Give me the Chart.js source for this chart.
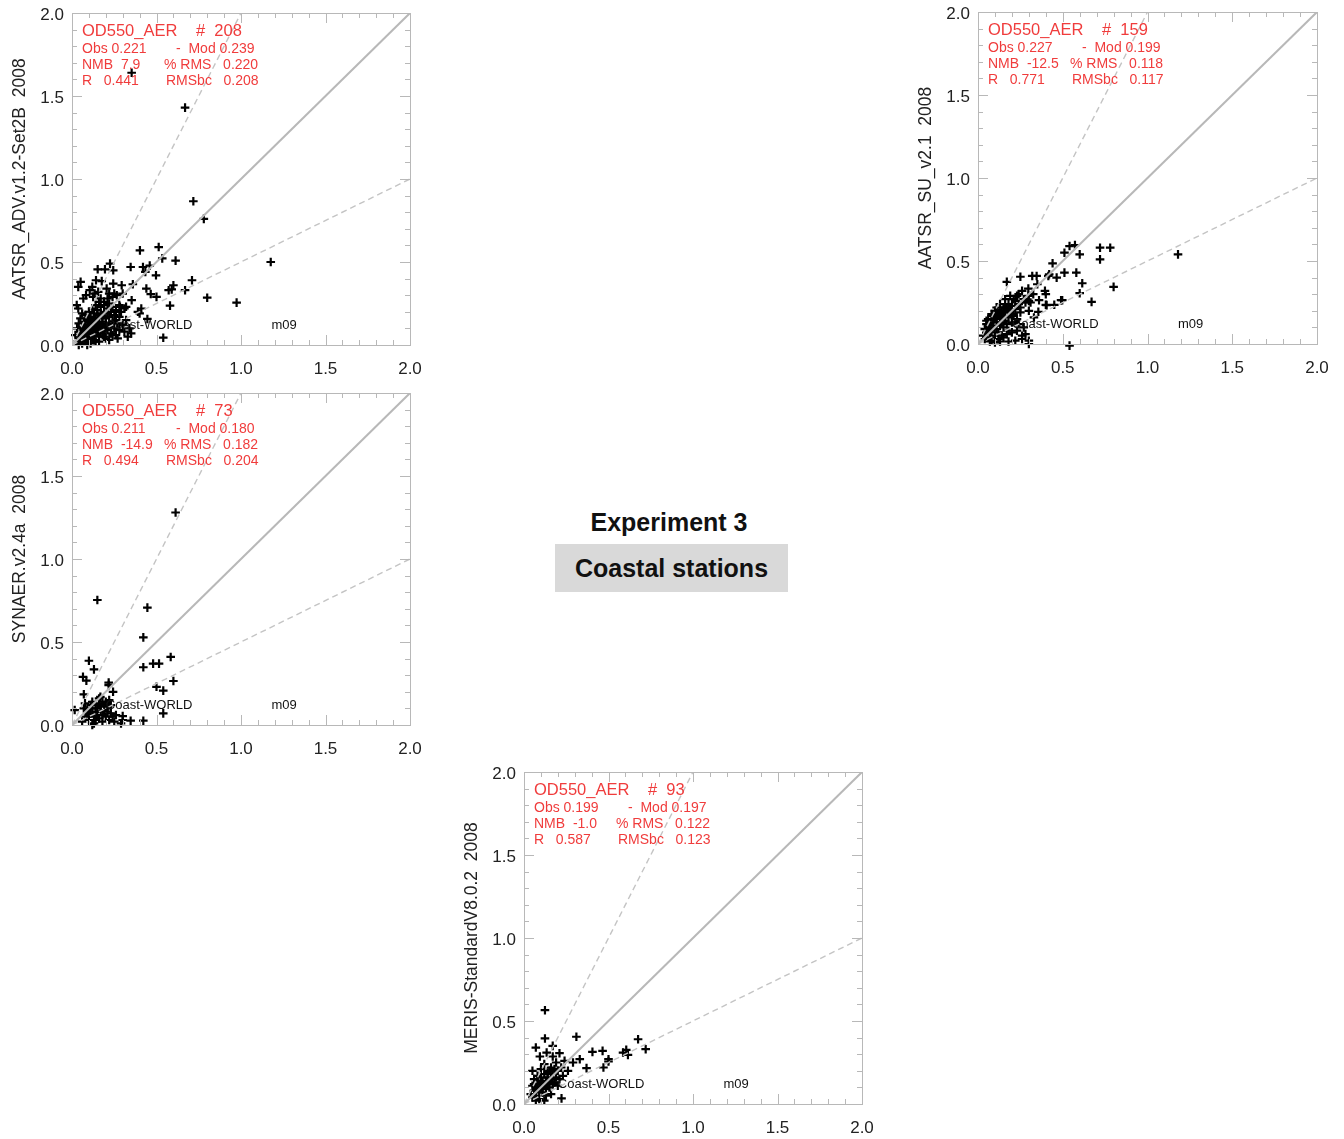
<!DOCTYPE html>
<html>
<head>
<meta charset="utf-8">
<script src="https://cdn.jsdelivr.net/npm/chart.js@4.4.1/dist/chart.umd.min.js"></script>
<style>
  html, body { margin: 0; padding: 0; background: #fff; overflow: hidden; }
  body { width: 1344px; height: 1139px; position: relative; font-family: "Liberation Sans", Arial, sans-serif; }
  canvas { position: absolute; }
  #exp { position: absolute; left: 536px; top: 508px; width: 266px; text-align: center; font-weight: bold; font-size: 25px; color: #111; }
  #box { position: absolute; left: 555px; top: 544px; width: 233px; height: 48px; line-height: 48px; background: #d9d9d9; text-align: center; font-weight: bold; font-size: 25px; color: #111; }
</style>
</head>
<body>
<canvas id="c1" width="430" height="380" style="left:0px;top:0px"></canvas>
<canvas id="c2" width="431" height="380" style="left:906px;top:-1px"></canvas>
<canvas id="c3" width="430" height="380" style="left:0px;top:380px"></canvas>
<canvas id="c4" width="430" height="380" style="left:452px;top:759px"></canvas>
<div id="exp">Experiment 3</div>
<div id="box">Coastal stations</div>
<script>
// panel labels and statistics
const panelLabels = ['AATSR_ADV.v1.2-Set2B  2008', 'AATSR_SU_v2.1  2008', 'SYNAER.v2.4a  2008', 'MERIS-StandardV8.0.2  2008'];
const stationCounts = ['208', '159', '73', '93'];
const obsMeans = ['0.221', '0.227', '0.211', '0.199'];
const modMeans = ['0.239', '0.199', '0.180', '0.197'];
const nmbValues = ['7.9', '-12.5', '-14.9', '-1.0'];
const rmsValues = ['0.220', '0.118', '0.182', '0.122'];
const rValues = ['0.441', '0.771', '0.494', '0.587'];
const rmsbcValues = ['0.208', '0.117', '0.204', '0.123'];
const axisTicks = [0, 0.5, 1.0, 1.5, 2.0];
const refSlopes = [1, 2, 0.5];

// [obs, model] pairs
const advPoints = [
  [0.353,1.64],[0.669,1.43],[0.718,0.866],[0.78,0.76],[1.176,0.50],[0.974,0.255],[0.80,0.285],[0.71,0.39],
  [0.669,0.33],[0.613,0.508],[0.534,0.522],[0.513,0.59],[0.402,0.57],[0.46,0.478],[0.42,0.47],[0.347,0.47],
  [0.434,0.44],[0.497,0.42],[0.60,0.36],[0.59,0.335],[0.572,0.33],[0.58,0.237],[0.50,0.29],[0.466,0.307],
  [0.44,0.34],[0.36,0.366],[0.294,0.36],[0.353,0.27],[0.41,0.22],[0.39,0.2],[0.40,0.19],[0.446,0.157],
  [0.54,0.044],[0.31,0.22],[0.284,0.23],[0.225,0.49],[0.152,0.456],[0.195,0.456],[0.244,0.45],[0.051,0.38],
  [0.037,0.35],[0.142,0.39],[0.176,0.385],[0.12,0.35],[0.134,0.31],[0.125,0.29],[0.205,0.34],[0.244,0.37],
  [0.067,0.28],[0.083,0.3],[0.028,0.24],[0.037,0.22],[0.17,0.28],[0.21,0.28],[0.24,0.29],[0.25,0.31],
  [0.19,0.26],[0.105,0.33],[0.155,0.32],[0.22,0.31],[0.265,0.3],[0.3,0.31],[0.28,0.24],[0.32,0.23],
  [0.03,0.02],[0.04,0.05],[0.05,0.03],[0.05,0.08],[0.06,0.01],[0.06,0.11],[0.07,0.04],[0.07,0.07],
  [0.07,0.14],[0.08,0.02],[0.08,0.09],[0.08,0.12],[0.08,0.18],[0.09,0.05],[0.09,0.1],[0.09,0.15],
  [0.1,0.03],[0.1,0.07],[0.1,0.12],[0.1,0.2],[0.11,0.09],[0.11,0.14],[0.11,0.17],[0.12,0.04],
  [0.12,0.11],[0.12,0.13],[0.12,0.22],[0.13,0.06],[0.13,0.09],[0.13,0.16],[0.13,0.19],[0.14,0.02],
  [0.14,0.12],[0.14,0.15],[0.14,0.24],[0.15,0.08],[0.15,0.1],[0.15,0.18],[0.15,0.21],[0.16,0.05],
  [0.16,0.13],[0.16,0.16],[0.17,0.11],[0.17,0.19],[0.17,0.23],[0.18,0.07],[0.18,0.14],[0.18,0.17],
  [0.19,0.1],[0.19,0.2],[0.2,0.04],[0.2,0.13],[0.2,0.16],[0.21,0.09],[0.21,0.19],[0.21,0.22],
  [0.22,0.12],[0.22,0.17],[0.23,0.07],[0.23,0.2],[0.24,0.14],[0.24,0.23],[0.25,0.1],[0.25,0.18],
  [0.26,0.06],[0.26,0.21],[0.27,0.13],[0.28,0.09],[0.28,0.17],[0.29,0.2],[0.3,0.12],[0.31,0.08],
  [0.32,0.15],[0.33,0.05],[0.34,0.1],[0.35,0.07],[0.02,0.06],[0.03,0.1],[0.04,0.13],[0.05,0.16],
  [0.06,0.19],[0.04,0.0],[0.09,0.0],[0.11,0.01],[0.13,0.03],[0.16,0.02],[0.19,0.05],[0.22,0.03],
  [0.24,0.06],[0.27,0.04],[0.06,0.06],[0.09,0.08],[0.11,0.06],[0.14,0.09],[0.17,0.08],[0.2,0.1],
  [0.23,0.11],[0.26,0.15],[0.12,0.08],[0.15,0.14],[0.18,0.11],[0.1,0.17],[0.07,0.1],[0.19,0.24],
  [0.16,0.26],[0.22,0.25]
];
const suPoints = [
  [1.18,0.54],[0.72,0.58],[0.78,0.58],[0.72,0.51],[0.80,0.344],[0.67,0.254],[0.60,0.54],[0.572,0.596],
  [0.54,0.59],[0.51,0.55],[0.44,0.486],[0.58,0.43],[0.51,0.43],[0.42,0.42],[0.615,0.366],[0.60,0.306],
  [0.49,0.264],[0.45,0.236],[0.40,0.236],[0.395,0.32],[0.36,0.264],[0.356,0.194],[0.297,0.334],[0.297,0.29],
  [0.346,0.41],[0.25,0.405],[0.17,0.374],[0.28,0.25],[0.25,0.22],[0.24,0.3],[0.22,0.26],[0.30,0.2],
  [0.54,-0.01],[0.464,0.40],[0.326,0.30],[0.30,0.26],[0.405,0.234],[0.497,0.264],
  [0.07,0.015],[0.13,0.015],[0.18,0.015],[0.22,0.02],[0.26,0.03],[0.30,0.02],[0.30,0.0],[0.26,0.05],[0.28,0.06],
  [0.04,0.03],[0.05,0.06],[0.06,0.1],[0.06,0.15],[0.07,0.04],[0.07,0.13],[0.08,0.08],[0.08,0.18],
  [0.09,0.11],[0.09,0.14],[0.1,0.05],[0.1,0.2],[0.1,0.16],[0.11,0.09],[0.11,0.13],[0.11,0.22],
  [0.12,0.17],[0.12,0.19],[0.12,0.07],[0.13,0.11],[0.13,0.15],[0.13,0.24],[0.14,0.2],[0.14,0.13],
  [0.14,0.05],[0.15,0.17],[0.15,0.22],[0.15,0.1],[0.16,0.14],[0.16,0.19],[0.16,0.27],[0.17,0.12],
  [0.17,0.21],[0.18,0.16],[0.18,0.24],[0.18,0.08],[0.19,0.2],[0.19,0.29],[0.2,0.13],[0.2,0.23],
  [0.21,0.18],[0.21,0.27],[0.22,0.21],[0.23,0.15],[0.23,0.29],[0.24,0.24],[0.25,0.19],[0.26,0.32],
  [0.27,0.27],[0.04,0.09],[0.05,0.12],[0.03,0.05],[0.08,0.02],[0.1,0.01],[0.12,0.03],[0.15,0.04],
  [0.17,0.06],[0.2,0.07],[0.23,0.08],[0.09,0.17],[0.07,0.07],[0.13,0.19],[0.11,0.18],[0.14,0.16],
  [0.16,0.22],[0.2,0.17],[0.22,0.13],[0.05,0.14],[0.06,0.12],[0.18,0.2],[0.24,0.12],[0.27,0.1],
  [0.33,0.16],[0.31,0.25],[0.35,0.36],[0.32,0.41],[0.4,0.3],[0.415,0.41]
];
const synPoints = [
  [0.613,1.28],[0.15,0.753],[0.446,0.707],[0.422,0.528],[0.10,0.387],[0.13,0.335],[0.065,0.29],[0.085,0.267],
  [0.422,0.348],[0.48,0.37],[0.515,0.37],[0.584,0.41],[0.60,0.265],[0.50,0.23],[0.54,0.207],[0.54,0.07],
  [0.217,0.255],[0.217,0.24],[0.243,0.20],[0.07,0.185],[0.168,0.17],[0.16,0.16],[0.016,0.09],[0.077,0.13],
  [0.22,0.15],[0.22,0.12],[0.30,0.054],[0.347,0.026],[0.422,0.026],[0.29,0.01],
  [0.06,0.02],[0.08,0.05],[0.09,0.09],[0.1,0.03],[0.11,0.07],[0.12,0.1],[0.12,0.0],[0.13,0.05],
  [0.14,0.12],[0.14,0.08],[0.15,0.1],[0.16,0.04],[0.16,0.13],[0.17,0.08],[0.17,0.11],[0.18,0.02],
  [0.18,0.14],[0.19,0.09],[0.2,0.05],[0.21,0.11],[0.22,0.03],[0.23,0.07],[0.24,0.05],[0.25,0.02],
  [0.13,0.01],[0.1,0.06],[0.07,0.1],[0.15,0.06],[0.19,0.12],[0.21,0.08],[0.26,0.06],[0.3,0.03],
  [0.12,0.14],[0.18,0.06],[0.2,0.14],[0.23,0.12],[0.14,0.03],[0.11,0.12]
];
const merisPoints = [
  [0.124,0.565],[0.31,0.405],[0.675,0.39],[0.72,0.33],[0.605,0.326],[0.586,0.31],[0.615,0.296],[0.50,0.27],
  [0.50,0.256],[0.47,0.22],[0.465,0.32],[0.405,0.314],[0.37,0.216],[0.33,0.27],[0.29,0.25],[0.07,0.34],
  [0.17,0.35],[0.134,0.31],[0.094,0.286],[0.21,0.306],[0.17,0.286],[0.124,0.395],[0.05,0.2],[0.222,0.034],
  [0.2,0.2],[0.22,0.22],[0.19,0.25],[0.24,0.26],[0.26,0.2],[0.23,0.17],[0.18,0.21],
  [0.05,0.04],[0.06,0.08],[0.06,0.12],[0.07,0.1],[0.07,0.05],[0.08,0.14],[0.08,0.09],[0.09,0.12],
  [0.09,0.03],[0.1,0.16],[0.1,0.1],[0.11,0.07],[0.11,0.13],[0.12,0.11],[0.12,0.18],[0.13,0.14],
  [0.13,0.09],[0.14,0.16],[0.14,0.12],[0.15,0.2],[0.15,0.1],[0.16,0.15],[0.16,0.06],[0.17,0.18],
  [0.18,0.13],[0.19,0.16],[0.2,0.11],[0.21,0.15],[0.08,0.17],[0.1,0.21],[0.12,0.24],[0.06,0.15],
  [0.09,0.07],[0.13,0.05],[0.15,0.13],[0.05,0.11],[0.11,0.1],[0.14,0.19],[0.17,0.12],[0.1,0.13],
  [0.07,0.02],[0.12,0.02],[0.16,0.22],[0.04,0.06]
];

const RED = '#f03c3c';
const GREY = '#b8b8b8';
const FONT = '"Liberation Sans", Arial, sans-serif';

// frame with inward ticks every 0.1, longer every 0.5
const framePlugin = {
  id: 'frame',
  afterDraw(chart) {
    const { ctx, chartArea: a, scales: { x, y } } = chart;
    ctx.save();
    ctx.strokeStyle = '#b8b8b8';
    ctx.lineWidth = 1;
    ctx.strokeRect(a.left + 0.5, a.top + 0.5, a.right - a.left, a.bottom - a.top);
    ctx.beginPath();
    for (let i = 1; i < 20; i++) {
      const len = i % 5 === 0 ? 10 : 5;
      const px = Math.round(x.getPixelForValue(i / 10)) + 0.5;
      ctx.moveTo(px, a.bottom); ctx.lineTo(px, a.bottom - len);
      ctx.moveTo(px, a.top); ctx.lineTo(px, a.top + len);
      const py = Math.round(y.getPixelForValue(i / 10)) + 0.5;
      ctx.moveTo(a.left, py); ctx.lineTo(a.left + len, py);
      ctx.moveTo(a.right, py); ctx.lineTo(a.right - len, py);
    }
    ctx.stroke();
    ctx.restore();
  }
};

// statistics box and region label
const textPlugin = {
  id: 'stats',
  afterDatasetsDraw(chart, args, opts) {
    const { ctx, chartArea: a, scales: { x, y } } = chart;
    const i = opts.index;
    const l = a.left;
    ctx.save();
    ctx.textBaseline = 'middle';
    ctx.fillStyle = RED;
    ctx.font = '16.5px ' + FONT;
    ctx.fillText('OD550_AER', l + 10, a.top + 18);
    ctx.fillText('#  ' + stationCounts[i], l + 124, a.top + 18);
    ctx.font = '14px ' + FONT;
    ctx.fillText('Obs ' + obsMeans[i], l + 10, a.top + 36);
    ctx.fillText('-  Mod ' + modMeans[i], l + 104, a.top + 36);
    ctx.fillText('NMB  ' + nmbValues[i], l + 10, a.top + 52);
    ctx.fillText('% RMS   ' + rmsValues[i], l + 92, a.top + 52);
    ctx.fillText('R   ' + rValues[i], l + 10, a.top + 68);
    ctx.fillText('RMSbc   ' + rmsbcValues[i], l + 94, a.top + 68);
    ctx.fillStyle = '#111';
    ctx.font = '13px ' + FONT;
    ctx.fillText('Coast-WORLD', x.getPixelForValue(0.2), y.getPixelForValue(0.12));
    ctx.fillText('m09', x.getPixelForValue(1.18), y.getPixelForValue(0.12));
    ctx.restore();
  }
};

function noOverhang(s) {
  s.paddingTop = 0; s.paddingBottom = 0; s.paddingLeft = 0; s.paddingRight = 0;
}

function makePanel(id, idx, points) {
  const refLines = refSlopes.map((s, k) => ({
    type: 'line',
    data: [0, Math.min(2, 2 / s)].map(v => ({ x: v, y: v * s })),
    borderColor: k === 0 ? GREY : '#c4c4c4',
    borderWidth: k === 0 ? 2 : 1.4,
    borderDash: k === 0 ? [] : [6, 4],
    pointRadius: 0,
    fill: false
  }));
  new Chart(document.getElementById(id).getContext('2d'), {
    type: 'scatter',
    data: {
      datasets: refLines.concat([{
        data: points.map(p => ({ x: p[0], y: p[1] })),
        pointStyle: 'cross',
        pointRadius: 4.3,
        borderWidth: 2.2,
        borderColor: '#000',
        backgroundColor: '#000',
        clip: false
      }])
    },
    options: {
      responsive: false,
      animation: false,
      events: [],
      layout: { padding: { top: 13, right: 20, left: 0, bottom: 0 } },
      plugins: {
        legend: { display: false },
        tooltip: { enabled: false },
        stats: { index: idx }
      },
      scales: {
        x: {
          type: 'linear', min: 0, max: 2,
          afterBuildTicks: s => { s.ticks = axisTicks.map(v => ({ value: v })); },
          afterFit: s => { s.height = 35; noOverhang(s); },
          grid: { display: false, drawTicks: false },
          border: { display: false },
          ticks: { padding: 14, color: '#222', font: { size: 17, family: FONT }, maxRotation: 0, autoSkip: false, callback: v => v.toFixed(1) }
        },
        y: {
          type: 'linear', min: 0, max: 2,
          afterBuildTicks: s => { s.ticks = axisTicks.map(v => ({ value: v })); },
          afterFit: s => { s.width = 72; noOverhang(s); },
          grid: { display: false, drawTicks: false },
          border: { display: false },
          ticks: { padding: 8, labelOffset: 2, color: '#222', font: { size: 17, family: FONT }, autoSkip: false, callback: v => v.toFixed(1) },
          title: { display: true, text: panelLabels[idx], color: '#222', font: { size: 17.5, family: FONT }, padding: { top: 10, bottom: 0 } }
        }
      }
    },
    plugins: [framePlugin, textPlugin]
  });
}

makePanel('c1', 0, advPoints);
makePanel('c2', 1, suPoints);
makePanel('c3', 2, synPoints);
makePanel('c4', 3, merisPoints);
</script>
</body>
</html>
